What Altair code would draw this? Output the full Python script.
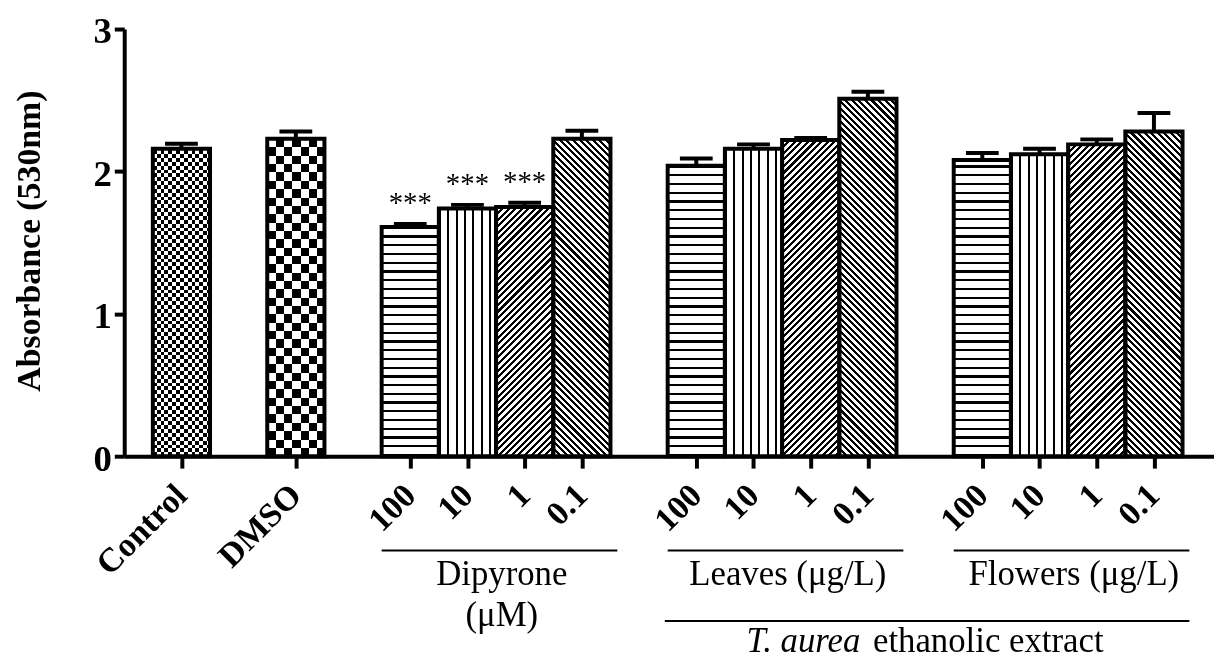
import math
import altair as alt
import pandas as pd

# ---------------- data ----------------
bar_labels = ["Control", "DMSO", "100", "10", "1", "0.1",
              "100", "10", "1", "0.1", "100", "10", "1", "0.1"]
slots = [0, 2, 4, 5, 6, 7, 9, 10, 11, 12, 14, 15, 16, 17]
means = [2.16, 2.23, 1.61, 1.74, 1.75, 2.23, 2.04, 2.16, 2.22, 2.51, 2.08, 2.12, 2.19, 2.28]
errors = [0.035, 0.05, 0.02, 0.025, 0.03, 0.055, 0.05, 0.03, 0.015, 0.05, 0.05, 0.04, 0.035, 0.13]
significance = ["", "", "***", "***", "***", "", "", "", "", "", "", "", "", ""]
fill_patterns = ["checker_fine", "checker_coarse",
                 "hlines", "vlines", "diag_up", "diag_down",
                 "hlines", "vlines", "diag_up", "diag_down",
                 "hlines", "vlines", "diag_up", "diag_down"]

group_names = ["Dipyrone\n(μM)", "Leaves (μg/L)", "Flowers (μg/L)"]
group_first = [4, 9, 14]
group_last = [7, 12, 17]

extract_italic = "T. aurea"
extract_rest = "ethanolic extract"
extract_first = [9]
extract_last = [17]

# ---------------- layout / style ----------------
PLOT_W, PLOT_H = 1097, 430
X_MIN, X_MAX = -1, 18.05
Y_MAX = 3
SERIF = "Liberation Serif"
px_slot = PLOT_W / (X_MAX - X_MIN)
px_unit = PLOT_H / Y_MAX


def stripe_stops(n, duty, on="black", off="white"):
    stops = []
    i = 0
    while i / n < 1:
        a = i / n
        b = min((i + duty) / n, 1.0)
        c = min((i + 1) / n, 1.0)
        stops += [{"offset": round(a, 5), "color": on},
                  {"offset": round(b, 5), "color": on},
                  {"offset": round(b, 5), "color": off},
                  {"offset": round(c, 5), "color": off}]
        i += 1
    return stops


def gradients_for(pattern, value):
    w = px_slot
    h = value * px_unit
    if pattern in ("checker_fine", "checker_coarse"):
        cell = 3.9 if pattern == "checker_fine" else 8.4
        g1 = {"gradient": "linear", "x1": 0, "y1": 1, "x2": 0, "y2": 0,
              "stops": stripe_stops(h / (2 * cell), 0.5)}
        g2 = {"gradient": "linear", "x1": 0, "y1": 0, "x2": 1, "y2": 0,
              "stops": stripe_stops(w / (2 * cell), 0.5)}
        return [g1, g2]
    if pattern == "hlines":
        period = 8.8
        return [{"gradient": "linear", "x1": 0, "y1": 1, "x2": 0, "y2": 0,
                 "stops": stripe_stops(h / period, 0.26)}]
    if pattern == "vlines":
        period = 8.4
        return [{"gradient": "linear", "x1": 0, "y1": 0, "x2": 1, "y2": 0,
                 "stops": stripe_stops(w / period, 0.26)}]
    period = 6.6
    a = w * (w + h) / (w * w + h * h)
    n = (w + h) / period
    if pattern == "diag_up":
        return [{"gradient": "linear", "x1": 0, "y1": 0, "x2": a, "y2": a * h / w,
                 "stops": stripe_stops(n, 0.47)}]
    return [{"gradient": "linear", "x1": 0, "y1": 1, "x2": a, "y2": 1 - a * h / w,
             "stops": stripe_stops(n, 0.47)}]


df = pd.DataFrame({"label": bar_labels, "slot": slots, "mean": means,
                   "err": errors, "sig": significance, "pattern": fill_patterns})

label_array = [""] * 20
for s, l in zip(slots, bar_labels):
    label_array[s] = l
label_expr = "[" + ",".join("'" + l + "'" for l in label_array) + "][datum.value]"

xs = alt.Scale(domain=[X_MIN, X_MAX], nice=False, zero=False)
ys = alt.Scale(domain=[0, Y_MAX], nice=False)

xaxis = alt.Axis(values=slots, labelExpr=label_expr, title=None, grid=False,
                 domainWidth=4, domainColor="black", tickWidth=4, tickColor="black",
                 tickSize=12, labelAngle=-45, labelAlign="right", labelBaseline="middle",
                 labelPadding=22, labelFont=SERIF, labelFontWeight="bold",
                 labelFontSize=34, labelColor="black", labelOverlap=False,
                 labelBound=False, labelFlush=False)
yaxis = alt.Axis(values=[0, 1, 2, 3], format="d", title="Absorbance (530nm)", grid=False,
                 domainWidth=4, domainColor="black", tickWidth=4, tickColor="black",
                 tickSize=10, labelPadding=3, labelFont=SERIF, labelFontWeight="bold",
                 labelFontSize=37, labelColor="black", labelBaseline="alphabetic",
                 labelOffset=14, labelFlush=False, labelBound=False,
                 titleFont=SERIF,
                 titleFontWeight="bold", titleFontSize=34, titleColor="black",
                 titleX=-95, titleY=213, titleAngle=-90, titleAlign="center",
                 titleBaseline="middle")

base = alt.Chart(df).transform_calculate(
    x0="datum.slot - 0.5", x1="datum.slot + 0.5", zero="0", top="datum.mean + datum.err"
)

X0 = alt.X("x0:Q", scale=xs, axis=xaxis)
Y = alt.Y("mean:Q", scale=ys, axis=yaxis)

layers = []
for s, p, m in zip(slots, fill_patterns, means):
    grads = gradients_for(p, m)
    for k, g in enumerate(grads):
        mk = dict(fill=g, strokeWidth=0)
        if k == 1:
            mk["blend"] = "difference"
        layers.append(
            base.transform_filter(alt.datum.slot == s)
            .mark_bar(**mk)
            .encode(x=X0, x2="x1:Q", y=Y, y2="zero:Q")
        )

outline = base.mark_bar(fill="white", fillOpacity=0, stroke="black", strokeWidth=4,
                        strokeJoin="miter").encode(x=X0, x2="x1:Q", y=Y, y2="zero:Q")

stem = base.mark_rule(color="black", strokeWidth=4).encode(
    x=alt.X("slot:Q", scale=xs, axis=xaxis), y=Y, y2="top:Q")
cap = base.mark_tick(orient="horizontal", color="black", size=33, thickness=4, opacity=1).encode(
    x=alt.X("slot:Q", scale=xs, axis=xaxis), y=alt.Y("top:Q", scale=ys, axis=yaxis))
stars = base.mark_text(font=SERIF, fontSize=29, baseline="alphabetic", align="center",
                       dy=-12, color="black").encode(
    x=alt.X("slot:Q", scale=xs, axis=xaxis), y=alt.Y("top:Q", scale=ys, axis=yaxis),
    text="sig:N")

gdf = pd.DataFrame({"name": group_names, "first": group_first, "last": group_last})
gbase = alt.Chart(gdf).transform_calculate(
    gx1="datum.first - 0.5", gx2="datum.last + 0.62", gxc="(datum.first + datum.last) / 2 + 0.1")
g_rules = gbase.mark_rule(color="black", strokeWidth=2).encode(
    x=alt.X("gx1:Q", scale=xs, axis=xaxis), x2="gx2:Q", y=alt.value(525))
g_text = gbase.mark_text(font=SERIF, fontSize=35, align="center", baseline="alphabetic",
                         lineBreak="\n", lineHeight=41, color="black").encode(
    x=alt.X("gxc:Q", scale=xs, axis=xaxis), y=alt.value(560), text="name:N")

edf = pd.DataFrame({"italic": [extract_italic], "rest": [extract_rest],
                    "first": extract_first, "last": extract_last})
ebase = alt.Chart(edf).transform_calculate(
    ex1="datum.first - 0.55", ex2="datum.last + 0.62", exc="(datum.first + datum.last) / 2")
e_rule = ebase.mark_rule(color="black", strokeWidth=2).encode(
    x=alt.X("ex1:Q", scale=xs, axis=xaxis), x2="ex2:Q", y=alt.value(596))
E_FS = 35
ital_w = 3.389 * E_FS
rest_w = 6.637 * E_FS
space_w = 0.25 * E_FS
total_w = ital_w + space_w + rest_w
e_ital = ebase.mark_text(font=SERIF, fontSize=E_FS, fontStyle="italic", align="left",
                         baseline="alphabetic", dx=-total_w / 2, color="black").encode(
    x=alt.X("exc:Q", scale=xs, axis=xaxis), y=alt.value(627), text="italic:N")
e_rest = ebase.mark_text(font=SERIF, fontSize=E_FS, align="left", baseline="alphabetic",
                         dx=-total_w / 2 + ital_w + space_w, color="black").encode(
    x=alt.X("exc:Q", scale=xs, axis=xaxis), y=alt.value(627), text="rest:N")

chart = alt.layer(*layers, outline, stem, cap, stars, g_rules, g_text, e_rule, e_ital, e_rest).properties(
    width=PLOT_W, height=PLOT_H, autosize="none",
    padding={"left": 117, "top": 19, "right": 0, "bottom": 207},
    background="white",
).configure_view(stroke=None)

chart.save("out.html", embed_options={"renderer": "svg", "actions": False})
